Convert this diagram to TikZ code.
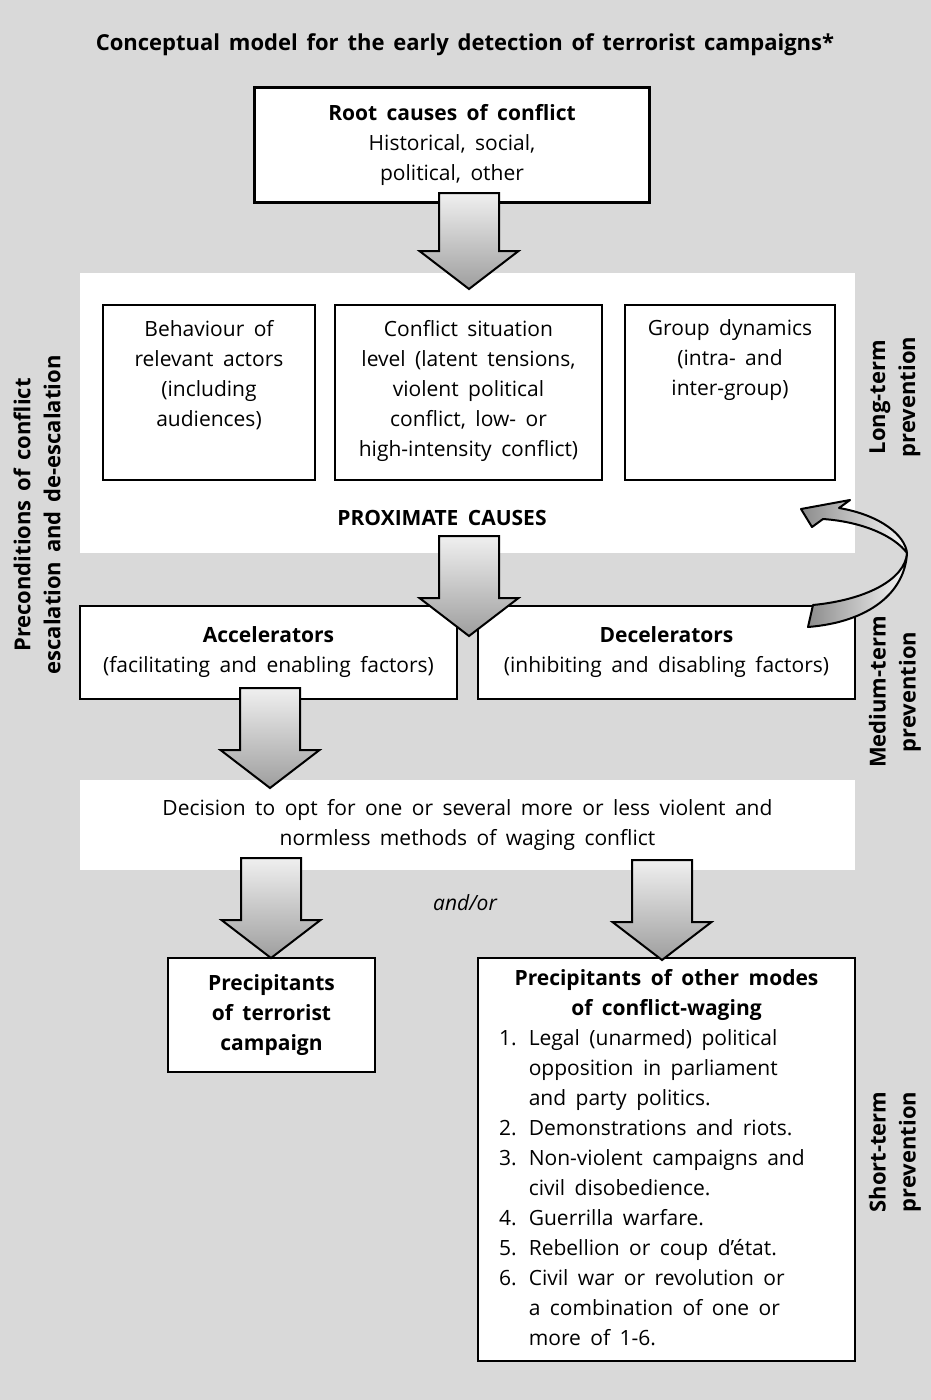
\documentclass[tikz,border=0pt]{standalone}
\usepackage{fontspec}
\setmainfont{Open Sans}
\usetikzlibrary{shapes.arrows}
\usetikzlibrary{positioning}
\definecolor{fond}{HTML}{D9D9D9}
\newcommand{\taille}{\fontsize{21}{30}\selectfont\spaceskip=0.45em plus 0.1em\relax}
\newcommand{\grand}{\fontsize{22}{30}\selectfont\spaceskip=0.4em plus 0.1em\relax}
\tikzstyle{boite} = [draw, line width=2.5pt, fill=white, inner sep=0pt, align=center, font=\taille]
\tikzstyle{texte} = [inner sep=0pt, align=center, font=\taille]
\tikzstyle{panneau} = [fill=white, inner sep=0pt, align=center, font=\taille]
\tikzstyle{grosse} = [single arrow, draw, line width=2pt, rotate=-90, anchor=tail, inner sep=0pt, inner ysep=29pt, minimum height=100pt, minimum width=97pt, single arrow head extend=19.5pt, single arrow tip angle=105, top color=black!6, bottom color=black!38]
\tikzstyle{cote} = [rotate=90, inner sep=0pt, align=center, font=\grand\bfseries]
\tikzstyle{ruban} = [draw, line width=2pt, line join=round, left color=black!45, right color=black!3]

\begin{document}
\begin{tikzpicture}[x=1pt, y=-1pt]
	\fill[fond] (0,0) rectangle (931,1400);
	\useasboundingbox (0,0) rectangle (931,1400);

	\node[texte, font=\grand\bfseries] (titre) at (465,45) {Conceptual model for the early detection of terrorist campaigns*};

	\node[boite, minimum width=395pt, minimum height=115pt] (racines) at (452,145) {\textbf{Root causes of conflict}\\Historical, social,\\political, other};

	% proximate causes
	\fill[white] (80,273) rectangle (855,553);
	\node[boite, minimum width=212pt, minimum height=175pt] (acteurs) at (209,392.5) {};
	\node[texte, below=16pt of acteurs.north] (tacteurs) {Behaviour of\\relevant actors\\(including\\audiences)};
	\node[boite, minimum width=267pt, minimum height=175pt] (situation) at (468.5,392.5) {};
	\node[texte, below=16pt of situation.north] (tsituation) {Conflict situation\\level (latent tensions,\\violent political\\conflict, low- or\\high-intensity conflict)};
	\node[boite, minimum width=210pt, minimum height=175pt] (groupe) at (730,392.5) {};
	\node[texte, below=16pt of groupe.north] (tgroupe) {Group dynamics\\(intra- and\\inter-group)};
	\node[texte, font=\taille\bfseries] (proxi) at (442,518) {PROXIMATE CAUSES};

	\node[boite, minimum width=377pt, minimum height=93pt] (accel) at (268.5,652.5) {\textbf{Accelerators}\\(facilitating and enabling factors)};
	\node[boite, minimum width=377pt, minimum height=93pt] (decel) at (666.5,652.5) {\textbf{Decelerators}\\(inhibiting and disabling factors)};

	\node[grosse, minimum height=96pt] (f1) at (469,192) {};
	\node[grosse] (f2) at (469,535) {};

	% feedback arrow
	\shade[ruban] (801,509) -- (850,500) -- (839,508) .. controls (880,515) and (905,535) .. (907,553)
		.. controls (895,537) and (865,522) .. (823,519) -- (812,527) -- cycle;
	\shade[ruban] (907,553) .. controls (905,580) and (865,600) .. (813,605) -- (808,627)
		.. controls (870,622) and (905,592) .. (907,553) -- cycle;

	\node[panneau, minimum width=775pt, minimum height=90pt] (decision) at (467.5,825) {Decision to opt for one or several more or less violent and\\normless methods of waging conflict};
	\node[grosse] (f3) at (270,687) {};

	\node[texte, font=\taille\itshape] (etou) at (465,903) {and/or};

	\node[boite, font=\taille\bfseries, minimum width=207pt, minimum height=114pt] (terror) at (271.5,1015) {Precipitants\\of terrorist\\campaign};
	\node[boite, minimum width=377pt, minimum height=403pt] (autres) at (666.5,1159.5) {%
		\begin{tabular}{@{}l@{\hspace{12pt}}p{305pt}@{}}
		\multicolumn{2}{c}{\textbf{Precipitants of other modes}}\\
		\multicolumn{2}{c}{\textbf{of conflict-waging}}\\
		1. & Legal (unarmed) political\\
		   & opposition in parliament\\
		   & and party politics.\\
		2. & Demonstrations and riots.\\
		3. & Non-violent campaigns and\\
		   & civil disobedience.\\
		4. & Guerrilla warfare.\\
		5. & Rebellion or coup d'état.\\
		6. & Civil war or revolution or\\
		   & a combination of one or\\
		   & more of 1-6.
		\end{tabular}};

	\node[grosse] (f4) at (271,857) {};
	\node[grosse] (f5) at (662,859) {};

	\node[cote] (precond) at (37,515) {Preconditions of conflict\\escalation and de-escalation};
	\node[cote] (long) at (895,397) {Long-term\\prevention};
	\node[cote] (moyen) at (895,692) {Medium-term\\prevention};
	\node[cote] (court) at (895,1152) {Short-term\\prevention};
\end{tikzpicture}
\end{document}
